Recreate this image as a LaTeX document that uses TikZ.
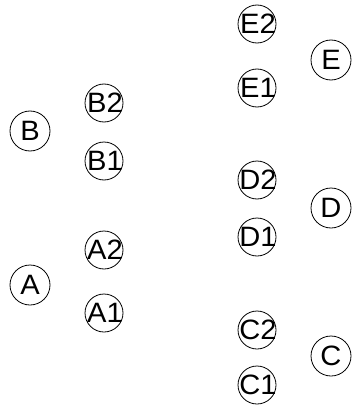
\documentclass[tikz,border=0pt]{standalone}
\usepackage{fontspec}
\setmainfont{Liberation Sans}[FakeStretch=1.04]
\begin{document}
\begin{tikzpicture}[x=1pt,y=-1pt,
  nd/.style={circle,draw,line width=0.8pt,inner sep=0pt,minimum size=#1,
    font=\fontsize{28}{28}\selectfont},
  big/.style={nd=40pt},
  small/.style={nd=38pt}]
\useasboundingbox (0,0) rectangle (354,412);
\node[big] (B) at (30,131) {\makebox[0pt]{B}};
\node[big] (A) at (30,285) {\makebox[0pt]{A}};
\node[big] (E) at (331,60) {\makebox[0pt]{E}};
\node[big] (D) at (331,208) {\makebox[0pt]{D}};
\node[big] (C) at (331,356) {\makebox[0pt]{C}};
\node[small] (B2) at (104,103) {\makebox[0pt]{\hspace{2pt}B2}};
\node[small] (B1) at (104,161) {\makebox[0pt]{\hspace{2pt}B1}};
\node[small] (A2) at (104,250) {\makebox[0pt]{\hspace{2pt}A2}};
\node[small] (A1) at (104,313) {\makebox[0pt]{\hspace{2pt}A1}};
\node[small] (E2) at (257,24) {\makebox[0pt]{\hspace{2pt}E2}};
\node[small] (E1) at (257,88) {\makebox[0pt]{\hspace{2pt}E1}};
\node[small] (D2) at (257,180) {\makebox[0pt]{\hspace{2pt}D2}};
\node[small] (D1) at (257,237) {\makebox[0pt]{\hspace{2pt}D1}};
\node[small] (C2) at (257,330) {\makebox[0pt]{\hspace{2pt}C2}};
\node[small] (C1) at (257,385) {\makebox[0pt]{\hspace{2pt}C1}};
\end{tikzpicture}
\end{document}
